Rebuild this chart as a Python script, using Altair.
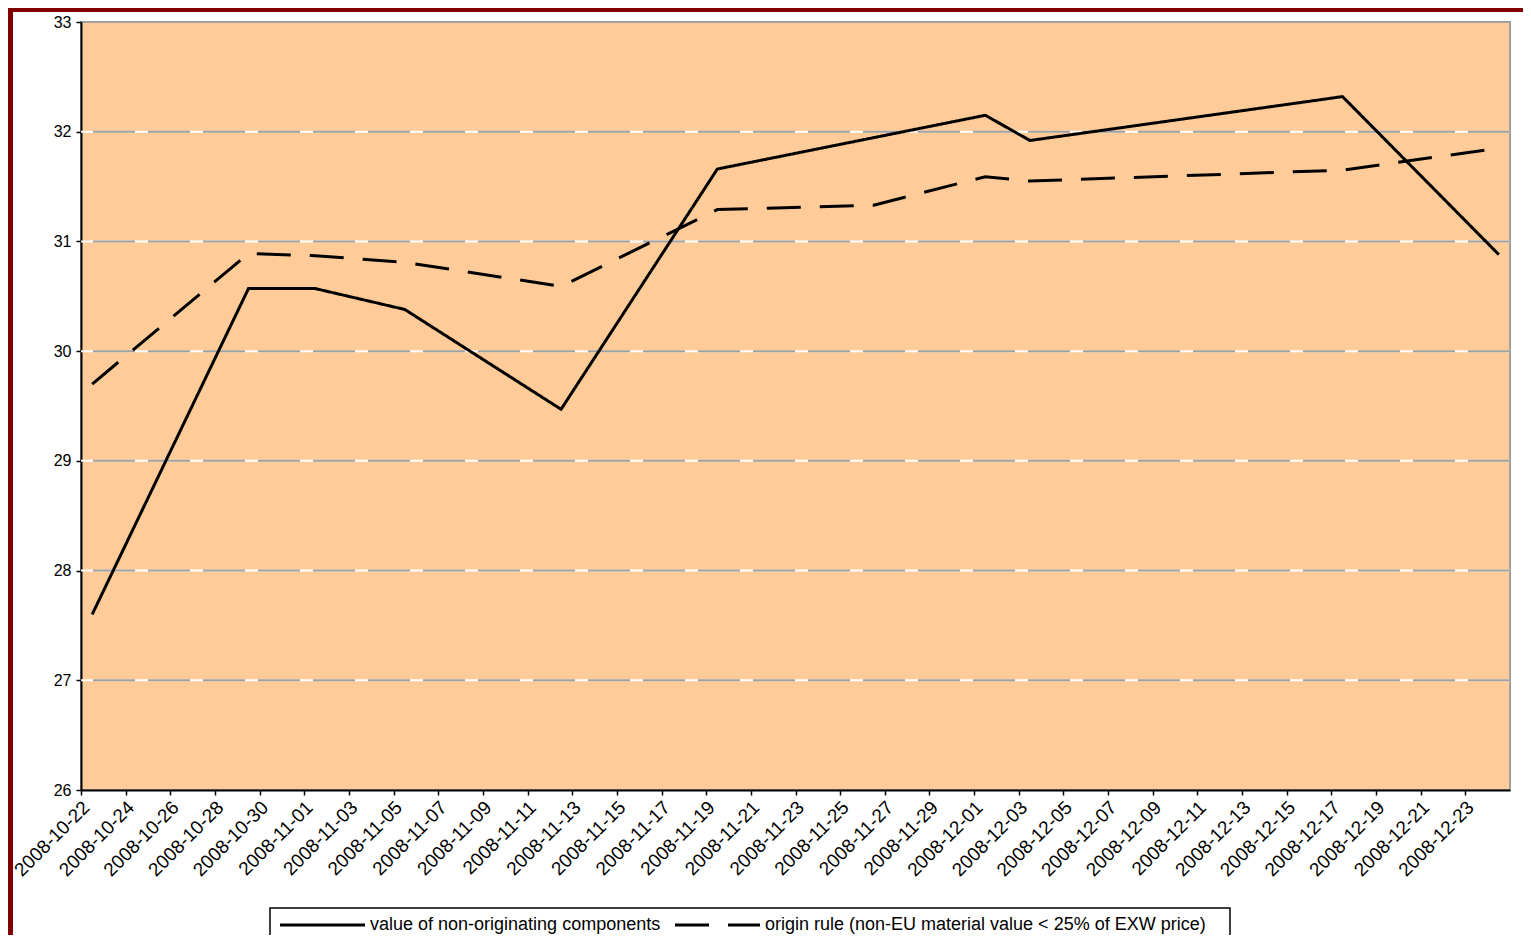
import altair as alt
import pandas as pd

# ---- data ----
series_names = [
    "value of non-originating components",
    "origin rule (non-EU material value < 25% of EXW price)",
]

solid_dates = ["2008-10-22", "2008-10-29", "2008-11-01", "2008-11-05", "2008-11-12",
               "2008-11-19", "2008-12-01", "2008-12-03", "2008-12-17", "2008-12-24"]
solid_values = [27.60, 30.57, 30.57, 30.38, 29.47, 31.66, 32.15, 31.92, 32.32, 30.88]

dashed_dates = ["2008-10-22", "2008-10-29", "2008-11-01", "2008-11-05", "2008-11-12",
                "2008-11-19", "2008-11-26", "2008-12-01", "2008-12-03", "2008-12-17",
                "2008-12-24"]
dashed_values = [29.70, 30.89, 30.87, 30.81, 30.59, 31.29, 31.33, 31.59, 31.55, 31.65, 31.85]

x_tick_labels = ["2008-10-22", "2008-10-24", "2008-10-26", "2008-10-28", "2008-10-30",
                 "2008-11-01", "2008-11-03", "2008-11-05", "2008-11-07", "2008-11-09",
                 "2008-11-11", "2008-11-13", "2008-11-15", "2008-11-17", "2008-11-19",
                 "2008-11-21", "2008-11-23", "2008-11-25", "2008-11-27", "2008-11-29",
                 "2008-12-01", "2008-12-03", "2008-12-05", "2008-12-07", "2008-12-09",
                 "2008-12-11", "2008-12-13", "2008-12-15", "2008-12-17", "2008-12-19",
                 "2008-12-21", "2008-12-23"]
x_domain = ["2008-10-22", "2008-12-25"]
y_ticks = [26, 27, 28, 29, 30, 31, 32, 33]
grid_values = [27, 28, 29, 30, 31, 32]

FONT = "Liberation Sans"
W, H = 1429, 768


def dt(s):
    y, m, d = (int(p) for p in s.split("-"))
    return alt.DateTime(year=y, month=m, date=d, utc=True)


def to_ms(dates, hours=0):
    ts = pd.to_datetime(dates) + pd.Timedelta(hours=hours)
    return [int(t.value // 1_000_000) for t in ts]


# points sit in the middle of each day slot (Excel "between tick marks")
df = pd.concat([
    pd.DataFrame({"t": to_ms(solid_dates, 12), "v": solid_values, "series": series_names[0]}),
    pd.DataFrame({"t": to_ms(dashed_dates, 12), "v": dashed_values, "series": series_names[1]}),
])
grid_df = pd.DataFrame({"v": grid_values})
one = pd.DataFrame({"a": [0]})

x_enc = alt.X(
    "t:T",
    title=None,
    scale=alt.Scale(type="utc", domain=[dt(x_domain[0]), dt(x_domain[1])]),
    axis=alt.Axis(
        values=[dt(s) for s in x_tick_labels],
        labelExpr="utcFormat(datum.value, '%Y-%m-%d')",
        labelAngle=-45,
        labelAlign="right",
        labelBaseline="middle",
        labelFontSize=19,
        labelFont=FONT,
        labelColor="black",
        labelPadding=9,
        labelOffset=5,
        labelOverlap=False,
        labelFlush=False,
        tickSize=5,
        grid=False,
    ),
)
y_scale = alt.Scale(domain=[26, 33], nice=False, zero=False)
y_axis = alt.Axis(
    values=y_ticks,
    labelFontSize=16,
    labelFont=FONT,
    labelColor="black",
    labelPadding=5,
    tickSize=5,
    grid=False,
)
y_enc = alt.Y("v:Q", title=None, scale=y_scale, axis=y_axis)

# dark red frame of the slide
frame_left = alt.Chart(one).mark_rect(color="#800000").encode(
    x=alt.value(-73), x2=alt.value(-68), y=alt.value(-14), y2=alt.value(H + 145)
)
frame_top = alt.Chart(one).mark_rect(color="#800000").encode(
    x=alt.value(-73), x2=alt.value(W + 13), y=alt.value(-14), y2=alt.value(-10)
)

# Excel-like gridlines: gray with short white gaps
grid_white = alt.Chart(grid_df).mark_rule(color="white", strokeWidth=2).encode(y=y_enc)
grid_gray = alt.Chart(grid_df).mark_rule(color="#a0a0a0", strokeWidth=2, strokeDash=[42, 13]).encode(y=y_enc)

lines = alt.Chart(df).mark_line(color="black", strokeWidth=3).encode(
    x=x_enc,
    y=y_enc,
    strokeDash=alt.StrokeDash(
        "series:N",
        scale=alt.Scale(domain=series_names, range=[[1, 0], [34, 19]]),
        legend=None,
    ),
)

# legend box drawn below the plot (bottom edge runs off the page as in the reference)
LX, LY = 189, 886
legend_box = alt.Chart(one).mark_rect(fill="white", stroke="black", strokeWidth=1.5).encode(
    x=alt.value(LX), x2=alt.value(LX + 960), y=alt.value(LY), y2=alt.value(LY + 45)
)
leg_sym1 = alt.Chart(one).mark_rule(color="black", strokeWidth=3).encode(
    x=alt.value(LX + 10), x2=alt.value(LX + 95), y=alt.value(LY + 17)
)
leg_sym2 = alt.Chart(one).mark_rule(color="black", strokeWidth=3, strokeDash=[34, 19]).encode(
    x=alt.value(LX + 405), x2=alt.value(LX + 490), y=alt.value(LY + 17)
)
leg_txt1 = alt.Chart(one).mark_text(
    align="left", baseline="middle", font=FONT, fontSize=18, color="black"
).encode(x=alt.value(LX + 100), y=alt.value(LY + 17), text=alt.value(series_names[0]))
leg_txt2 = alt.Chart(one).mark_text(
    align="left", baseline="middle", font=FONT, fontSize=18, color="black"
).encode(x=alt.value(LX + 495), y=alt.value(LY + 17), text=alt.value(series_names[1]))

chart = (
    alt.layer(frame_left, frame_top, grid_white, grid_gray, lines,
              legend_box, leg_sym1, leg_sym2, leg_txt1, leg_txt2)
    .properties(
        width=W,
        height=H,
        autosize=alt.AutoSizeParams(type="none"),
        padding={"left": 73, "top": 14, "right": 13, "bottom": 145},
        background="white",
    )
    .configure_view(fill="#FFCC99", stroke="#a0a0a0", strokeWidth=2)
    .configure_axis(domainColor="black", domainWidth=2, tickColor="black", tickWidth=1.5)
)

chart.save("out.html", embed_options={"renderer": "svg", "actions": False})
